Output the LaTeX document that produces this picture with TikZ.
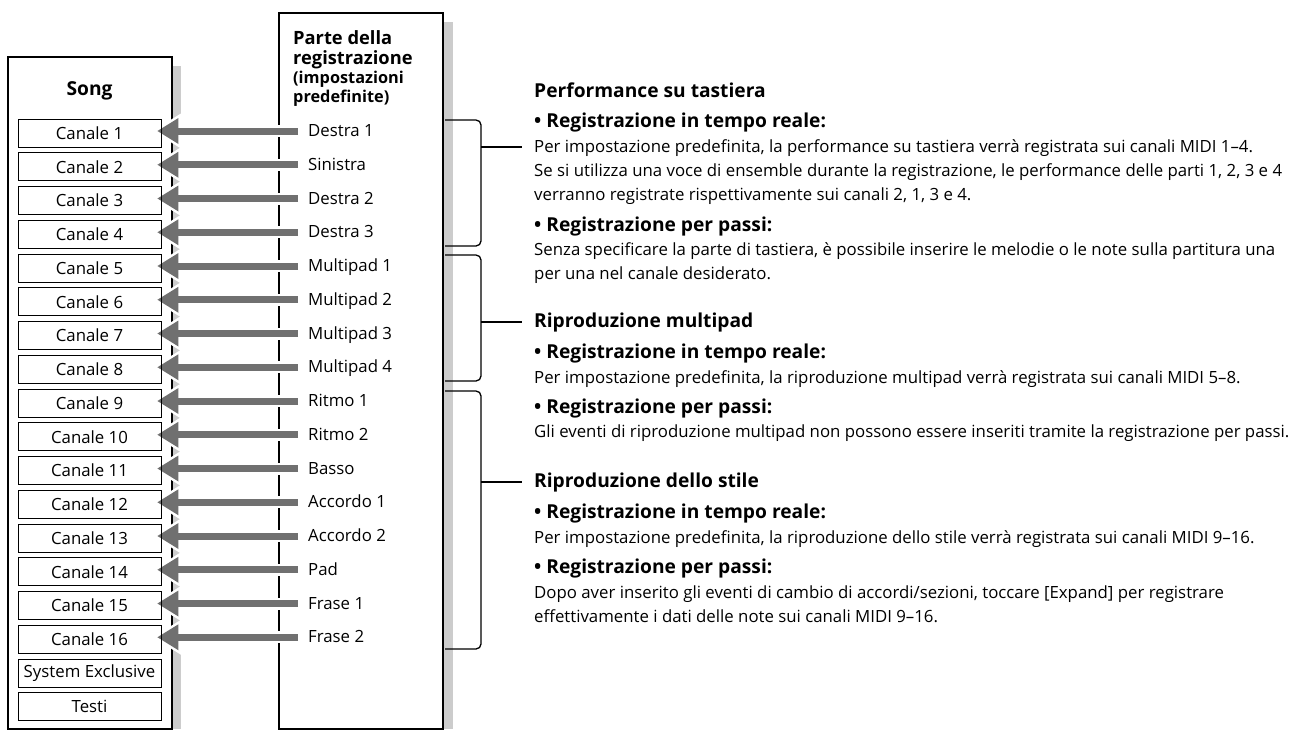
\documentclass[tikz,border=0pt]{standalone}
\usepackage{fontspec}
\setmainfont{Open Sans}
\usetikzlibrary{arrows.meta}
\pgfdeclarelayer{bg}
\pgfsetlayers{bg,main}
\definecolor{arrgray}{RGB}{112,112,112}
\definecolor{shadegray}{RGB}{204,204,204}
\newcommand{\bodyfont}{\fontsize{16.8}{24}\selectfont}
\newcommand{\headfont}{\fontsize{19.2}{20}\selectfont\bfseries}
\newcommand{\titlefont}{\fontsize{18.3}{20}\selectfont\bfseries}
\newcommand{\subheadfont}{\fontsize{16.3}{18}\selectfont\bfseries}
\begin{document}
\begin{tikzpicture}[x=1pt,y=-1pt,
  outerbox/.style={draw=black, line width=1.6pt},
  chbox/.style={draw=black, line width=0.9pt, minimum width=143pt, minimum height=28pt, inner sep=0pt, font=\bodyfont},
  partlbl/.style={anchor=west, inner xsep=10pt, inner ysep=0pt, text height=12pt, text depth=1pt, font=\bodyfont},
  arr/.style={draw=arrgray, line width=7pt, -{Triangle[length=21pt,width=26pt,line width=0pt]}, shorten >=-4pt},
  halo/.style={draw=white, line width=12pt, -{Triangle[length=28.2pt,width=35pt,line width=0pt]}, shorten >=-8.7pt},
  brk/.style={draw=black, line width=1.3pt, rounded corners=5pt},
  tick/.style={draw=black, line width=1.3pt},
  head/.style={anchor=base west, inner sep=0pt, font=\headfont},
  body/.style={anchor=base west, inner sep=0pt, font=\bodyfont}
]
\useasboundingbox (0,0) rectangle (1309,731);

% channel boxes of the song
\foreach \t [count=\i from 0] in {Canale 1,Canale 2,Canale 3,Canale 4,Canale 5,Canale 6,Canale 7,Canale 8,Canale 9,Canale 10,Canale 11,Canale 12,Canale 13,Canale 14,Canale 15,Canale 16,System Exclusive,Testi} {
  \node[chbox] (c\i) at (89.5, 133+33.75*\i) {\t};
}
% recording parts
\foreach \t [count=\i from 0] in {Destra 1,Sinistra,Destra 2,Destra 3,Multipad 1,Multipad 2,Multipad 3,Multipad 4,Ritmo 1,Ritmo 2,Basso,Accordo 1,Accordo 2,Pad,Frase 1,Frase 2} {
  \node[partlbl] (p\i) at (298, 131+33.75*\i) {\t};
}

% titles
\node[anchor=base, inner sep=0pt, font=\headfont] (songtitle) at (89.5,95) {Song};
\node[anchor=base west, inner sep=0pt, font=\titlefont] (pt1) at (293,44) {Parte della};
\node[anchor=base west, inner sep=0pt, font=\titlefont] (pt2) at (293,64) {registrazione};
\node[anchor=base west, inner sep=0pt, font=\subheadfont] (pt3) at (293,83) {(impostazioni};
\node[anchor=base west, inner sep=0pt, font=\subheadfont] (pt4) at (293,102) {predefinite)};

\begin{pgfonlayer}{bg}
  \fill[shadegray] (172,66) rectangle (181,729);
  \draw[outerbox] (8,57) rectangle (172,729);
  \fill[shadegray] (443,22) rectangle (453,729);
  \draw[outerbox] (279,13) rectangle (443,729);
  \foreach \i in {0,...,15} {
    \draw[halo] (p\i.west) -- (p\i.west -| c\i.east);
    \draw[arr] (p\i.west) -- (p\i.west -| c\i.east);
  }
\end{pgfonlayer}

% brackets
\coordinate (k1) at (522,147);
\coordinate (k2) at (522,322);
\coordinate (k3) at (522,482);
\draw[brk] (445,120) -- (481,120) -- (481,246) -- (445,246);
\draw[tick] (k1 -| 481,0) -- (k1);
\draw[brk] (445,255) -- (481,255) -- (481,381) -- (445,381);
\draw[tick] (k2 -| 481,0) -- (k2);
\draw[brk] (445,391) -- (481,391) -- (481,649) -- (445,649);
\draw[tick] (k3 -| 481,0) -- (k3);

% right-hand text
\node[head] (h1) at (534,97) {Performance su tastiera};
\node[head] (h1a) at (534,127) {• Registrazione in tempo reale:};
\node[body] (l1) at (534,152) {Per impostazione predefinita, la performance su tastiera verrà registrata sui canali MIDI 1–4.};
\node[body] (l2) at (534,176) {Se si utilizza una voce di ensemble durante la registrazione, le performance delle parti 1, 2, 3 e 4};
\node[body] (l3) at (534,200) {verranno registrate rispettivamente sui canali 2, 1, 3 e 4.};
\node[head] (h1b) at (534,231) {• Registrazione per passi:};
\node[body] (l4) at (534,255) {Senza specificare la parte di tastiera, è possibile inserire le melodie o le note sulla partitura una};
\node[body] (l5) at (534,279) {per una nel canale desiderato.};

\node[head] (h2) at (534,327) {Riproduzione multipad};
\node[head] (h2a) at (534,358) {• Registrazione in tempo reale:};
\node[body] (l6) at (534,383) {Per impostazione predefinita, la riproduzione multipad verrà registrata sui canali MIDI 5–8.};
\node[head] (h2b) at (534,413) {• Registrazione per passi:};
\node[body] (l7) at (534,437) {Gli eventi di riproduzione multipad non possono essere inseriti tramite la registrazione per passi.};

\node[head] (h3) at (534,487) {Riproduzione dello stile};
\node[head] (h3a) at (534,518) {• Registrazione in tempo reale:};
\node[body] (l8) at (534,543) {Per impostazione predefinita, la riproduzione dello stile verrà registrata sui canali MIDI 9–16.};
\node[head] (h3b) at (534,573) {• Registrazione per passi:};
\node[body] (l9) at (534,598) {Dopo aver inserito gli eventi di cambio di accordi/sezioni, toccare [Expand] per registrare};
\node[body] (l10) at (534,622) {effettivamente i dati delle note sui canali MIDI 9–16.};
\end{tikzpicture}
\end{document}
